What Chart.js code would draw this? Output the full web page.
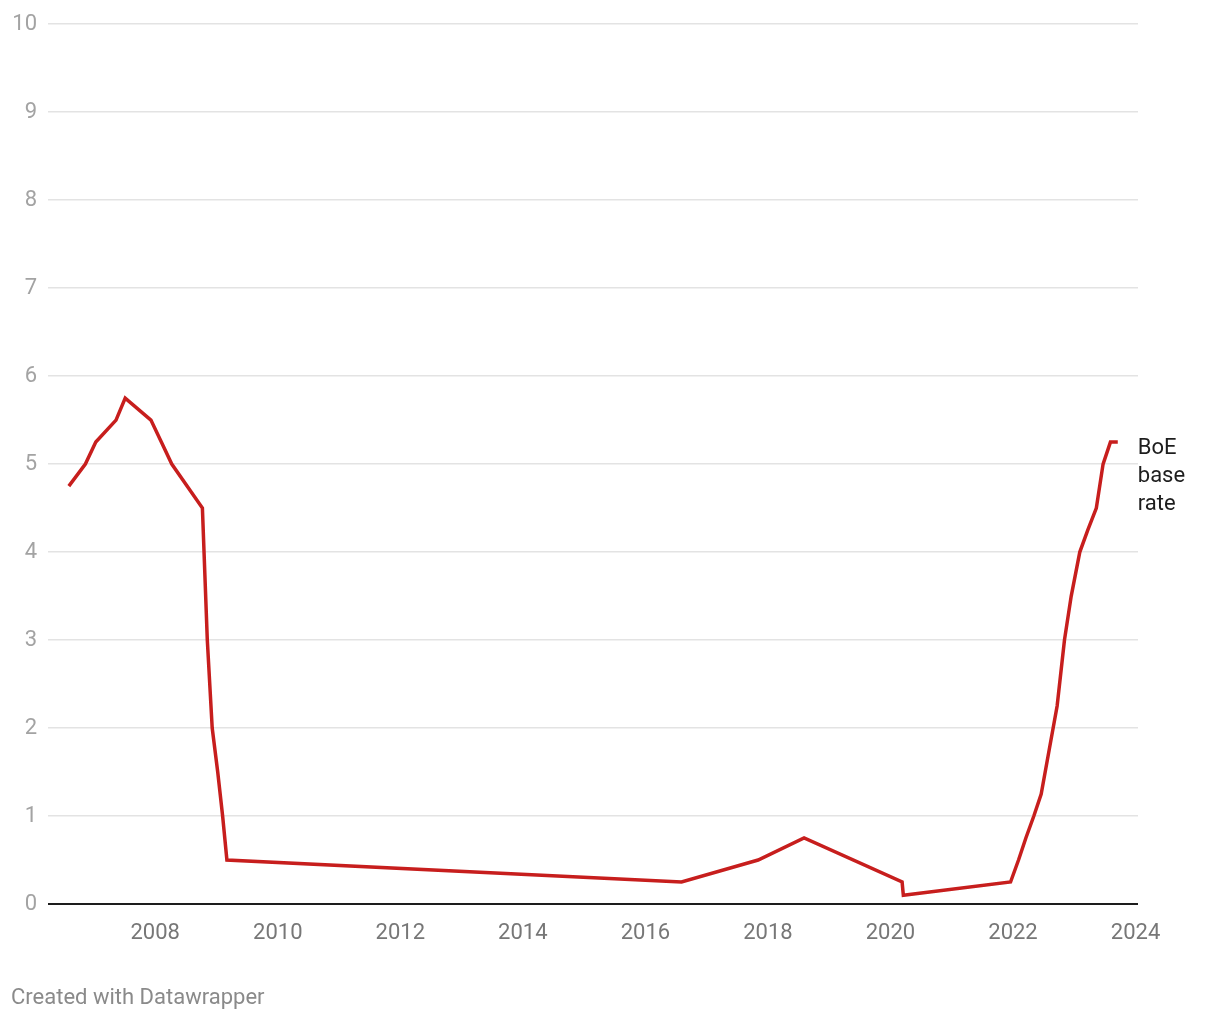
<!DOCTYPE html>
<html lang="en">
<head>
  <meta charset="UTF-8">
  <title>BoE base rate</title>
  <script src="https://cdn.jsdelivr.net/npm/chart.js"></script>
  <style>
    body { margin: 0; background: #fff; font-family: Roboto, sans-serif; }
    #wrap { position: relative; width: 1220px; height: 1020px; }
    #footer { position: absolute; left: 11px; top: 984px; font-size: 22px; color: #8a8a8a; }
  </style>
</head>
<body>
<div id="wrap">
  <canvas id="rateChart" width="1220" height="1020"></canvas>
  <div id="footer">Created with Datawrapper</div>
</div>

<script>
  // decimal years of each rate change
  const years = [2006.59, 2006.86, 2007.03, 2007.36, 2007.51, 2007.93, 2008.10, 2008.27, 2008.77, 2008.85,
                 2008.93, 2009.02, 2009.10, 2009.17, 2016.59, 2017.84, 2018.59, 2020.19, 2020.21, 2021.96,
                 2022.09, 2022.21, 2022.34, 2022.46, 2022.59, 2022.72, 2022.84, 2022.95, 2023.09, 2023.22,
                 2023.36, 2023.47, 2023.59, 2023.71];
  const rates = [4.75, 5.0, 5.25, 5.5, 5.75, 5.5, 5.25, 5.0, 4.5, 3.0,
                 2.0, 1.5, 1.0, 0.5, 0.25, 0.5, 0.75, 0.25, 0.1, 0.25,
                 0.5, 0.75, 1.0, 1.25, 1.75, 2.25, 3.0, 3.5, 4.0, 4.25,
                 4.5, 5.0, 5.25, 5.25];
  const xTicks = [2008, 2010, 2012, 2014, 2016, 2018, 2020, 2022, 2024];
  const yTicks = [0, 1, 2, 3, 4, 5, 6, 7, 8, 9, 10];
  const seriesLabel = ['BoE', 'base', 'rate'];

  // label at the end of the line
  const endLabel = {
    id: 'endLabel',
    afterDatasetsDraw(chart) {
      const meta = chart.getDatasetMeta(0);
      const last = meta.data[meta.data.length - 1];
      const ctx = chart.ctx;
      ctx.save();
      ctx.font = '22px Roboto';
      ctx.fillStyle = '#1d1d1d';
      ctx.textBaseline = 'middle';
      ctx.textAlign = 'left';
      seriesLabel.forEach((t, i) => {
        ctx.fillText(t, last.x + 20, last.y + 6 + i * 28);
      });
      ctx.restore();
    }
  };

  const ctx = document.getElementById('rateChart').getContext('2d');
  new Chart(ctx, {
    type: 'line',
    data: {
      datasets: [{
        label: 'BoE base rate',
        data: years.map((y, i) => ({ x: y, y: rates[i] })),
        borderColor: '#c71e1d',
        borderWidth: 3.5,
        pointRadius: 0,
        tension: 0,
        fill: false
      }]
    },
    options: {
      responsive: false,
      animation: false,
      layout: { padding: { top: 24, right: 82, bottom: 66, left: 0 } },
      plugins: { legend: { display: false }, tooltip: { enabled: false } },
      scales: {
        x: {
          type: 'linear',
          min: 2006.25,
          max: 2024.04,
          afterBuildTicks: axis => { axis.ticks = xTicks.map(v => ({ value: v })); },
          afterFit: axis => { axis.height = 50; },
          grid: { display: false },
          border: { display: false },
          ticks: {
            color: '#777',
            font: { family: 'Roboto', size: 22 },
            padding: 8,
            maxRotation: 0,
            callback: v => String(v)
          }
        },
        y: {
          min: 0,
          max: 10,
          afterBuildTicks: axis => { axis.ticks = yTicks.map(v => ({ value: v })); },
          afterFit: axis => { axis.width = 48; },
          border: { display: false },
          grid: {
            drawTicks: false,
            color: c => c.tick && c.tick.value === 0 ? '#1d1d1d' : '#e3e3e3',
            lineWidth: c => c.tick && c.tick.value === 0 ? 2 : 1.5
          },
          ticks: {
            color: '#a3a3a3',
            font: { family: 'Roboto', size: 22 },
            padding: 11
          }
        }
      }
    },
    plugins: [endLabel]
  });
</script>
</body>
</html>
